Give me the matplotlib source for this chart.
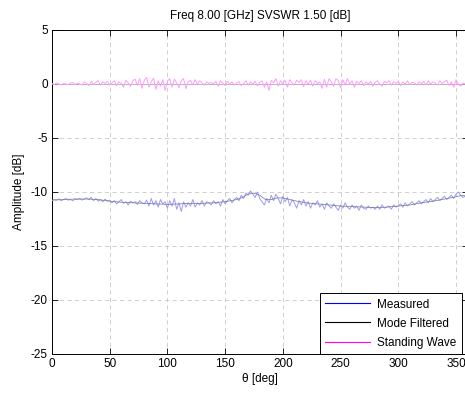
import numpy as np
import matplotlib
matplotlib.use("Agg")
import matplotlib.pyplot as plt
from matplotlib.lines import Line2D

plt.rcParams['font.family'] = ['Liberation Sans', 'DejaVu Sans']
plt.rcParams['axes.unicode_minus'] = False

title = "Freq 8.00 [GHz] SVSWR 1.50 [dB]"
xlabel = "θ [deg]"
ylabel = "Amplitude [dB]"
legend_labels = ["Measured", "Mode Filtered", "Standing Wave"]
xticks = [0, 50, 100, 150, 200, 250, 300, 350]
yticks = [5, 0, -5, -10, -15, -20, -25]

theta = np.arange(0, 361, 2)

measured = [
    -10.8, -10.7, -10.75, -10.65, -10.8, -10.7, -10.6, -10.75, -10.7, -10.8, -10.65, -10.7, -10.6, -10.75, -10.65, -10.55,
    -10.7, -10.5, -10.8, -10.6, -10.85, -10.7, -10.9, -10.65, -10.85, -10.75,
    -11.0, -10.8, -11.1, -10.9, -10.7, -11.05, -10.9, -11.2, -10.85, -11.0, -10.9, -11.15, -10.8, -11.0, -11.1,
    -10.75, -11.3, -10.6, -11.2, -10.8, -11.4, -10.7, -11.1, -10.9, -11.5,
    -10.8, -11.3, -10.6, -11.6, -11.0, -11.8, -10.9, -11.4, -11.0, -11.3,
    -10.7, -11.4, -11.0, -11.2, -10.8, -11.3, -10.9, -11.0, -11.2, -10.8,
    -11.1, -10.9, -11.3, -10.7, -11.1, -10.8, -10.6, -11.0, -10.7, -10.5,
    -10.8, -10.3, -10.6, -10.1, -10.3, -9.9, -10.2, -10.5, -10.0, -10.6,
    -10.9, -11.2, -10.6, -11.0, -10.3, -10.8, -10.2, -10.6, -11.1, -10.4,
    -10.9, -10.5, -11.3, -10.7, -11.0, -11.5, -10.8, -11.2, -10.7, -11.3,
    -10.9, -11.5, -11.0, -11.2, -10.8, -11.4, -11.1, -11.6, -11.0, -11.3,
    -11.5, -11.1, -11.4, -11.7, -11.2, -11.5, -11.0, -11.4, -11.6, -11.2,
    -11.5, -11.3, -11.7, -11.2, -11.5, -11.6, -11.3, -11.5, -11.4, -11.6,
    -11.3, -11.6, -11.2, -11.5, -11.4, -11.3, -11.6, -11.2, -11.4, -11.3,
    -11.1, -11.4, -11.0, -11.3, -11.1, -10.9, -11.2, -11.0, -10.8, -11.1,
    -10.9, -10.7, -11.0, -10.6, -10.9, -10.7, -10.5, -10.8, -10.6, -10.4,
    -10.7, -10.5, -10.3, -10.6, -10.2, -10.0, -10.3, -10.5, -10.4, -10.5,
]

standing = [
    0.05, -0.05, 0.1, 0.0, -0.1, 0.05, 0.0, -0.05, 0.1, 0.15, -0.05, 0.1, 0.0, -0.1, 0.2, 0.05,
    -0.15, 0.25, -0.05, 0.15, 0.3, -0.1, 0.2, 0.05, 0.25, -0.1,
    0.1, 0.3, -0.15, 0.2, 0.05, -0.3, 0.35, 0.1, -0.2, 0.3, 0.45, -0.1, 0.5, -0.4, 0.35,
    0.6, -0.3, 0.2, 0.55, -0.5, 0.3, -0.2, 0.4, -0.6, 0.25,
    0.5, -0.3, 0.45, 0.1, -0.35, 0.3, 0.5, -0.45, 0.2, 0.35,
    -0.1, 0.4, 0.0, 0.3, 0.1, -0.1, 0.2, 0.05, 0.15, 0.0,
    0.25, -0.2, 0.3, 0.1, -0.15, 0.25, 0.0, 0.2, -0.1, 0.1,
    0.2, -0.15, 0.05, 0.3, -0.1, 0.2, 0.0, 0.25, -0.2, 0.15,
    0.3, -0.3, 0.2, -0.6, 0.35, 0.1, 0.5, -0.2, 0.3, 0.0,
    0.35, -0.3, 0.4, 0.1, -0.1, 0.35, 0.15, 0.4, -0.25, 0.3,
    0.0, 0.35, -0.2, 0.3, 0.05, 0.2, -0.4, 0.45, -0.3, 0.5,
    0.2, -0.2, 0.5, 0.35, -0.35, 0.4, -0.1, 0.5, 0.0, 0.3,
    -0.3, 0.25, 0.05, 0.3, -0.15, 0.2, 0.0, 0.25, -0.2, 0.15,
    0.3, 0.0, -0.2, 0.25, 0.1, 0.3, -0.1, 0.2, 0.05, 0.25,
    -0.15, 0.2, 0.0, 0.3, -0.05, 0.15, 0.1, -0.1, 0.2, 0.05,
    0.25, -0.1, 0.3, 0.0, 0.2, 0.1, -0.1, 0.3, 0.05, 0.2,
    0.35, -0.15, 0.2, -0.3, 0.4, 0.0, -0.2, 0.1, 0.0, 0.05,
]

theta_mf = [0, 10, 20, 30, 40, 50, 60, 70, 80, 90, 100, 110, 120, 130, 140, 150, 160, 165, 170, 175,
            180, 185, 190, 195, 200, 210, 220, 230, 240, 250, 260, 270, 280, 290, 300, 310, 320,
            330, 340, 350, 355, 360]
mode_filtered = [-10.75, -10.7, -10.65, -10.65, -10.7, -10.85, -10.95, -11.0, -11.05, -11.1, -11.15, -11.1,
                 -11.05, -11.05, -11.0, -10.9, -10.7, -10.5, -10.2, -10.1, -10.3, -10.7, -10.7, -10.55,
                 -10.55, -10.8, -11.0, -11.1, -11.2, -11.3, -11.35, -11.4, -11.45, -11.4, -11.3, -11.2,
                 -11.0, -10.85, -10.65, -10.45, -10.3, -10.4]
mode_filtered_sw = [0.0] * len(theta_mf)

fig = plt.figure(figsize=(4.65, 3.94), dpi=100)
ax = fig.add_axes([52/465, 40/394, 415.5/465, 324/394])

ax.plot(theta, measured, color='#9a9aff', lw=0.7, zorder=3)
ax.plot(theta_mf, mode_filtered, color='#808080', lw=0.55, zorder=4)
ax.plot(theta_mf, mode_filtered_sw, color='#b0b0b0', lw=0.6, zorder=3)
ax.plot(theta, standing, color='#ff9cff', lw=0.7, zorder=4)

ax.set_xlim(0, 360)
ax.set_ylim(-25, 5)
ax.set_xticks(xticks)
ax.set_yticks(yticks)
ax.grid(True, color='#c8c8c8', linestyle=(0, (5, 4)), lw=0.6)
ax.tick_params(direction='in', length=4, width=0.6, top=True, right=True, labelsize=8.5, pad=3)
for s in ax.spines.values():
    s.set_linewidth(0.7)

ax.set_title(title, fontsize=8.5, pad=8)
ax.set_xlabel(xlabel, fontsize=8.5, labelpad=2)
ax.set_ylabel(ylabel, fontsize=8.5, labelpad=4)

handles = [Line2D([], [], color='#0000ff', lw=0.8),
           Line2D([], [], color='#000000', lw=0.8),
           Line2D([], [], color='#ff00ff', lw=0.8)]
leg = ax.legend(handles, legend_labels, loc='lower right', fontsize=8.5,
                bbox_to_anchor=(462/465, 40/394), bbox_transform=fig.transFigure,
                fancybox=False, framealpha=1, edgecolor='black', borderaxespad=0,
                handlelength=3.8, handletextpad=0.6, borderpad=0.45, labelspacing=0.6)
leg.get_frame().set_linewidth(0.7)
leg.set_zorder(10)

fig.savefig("out.png", dpi=100)
